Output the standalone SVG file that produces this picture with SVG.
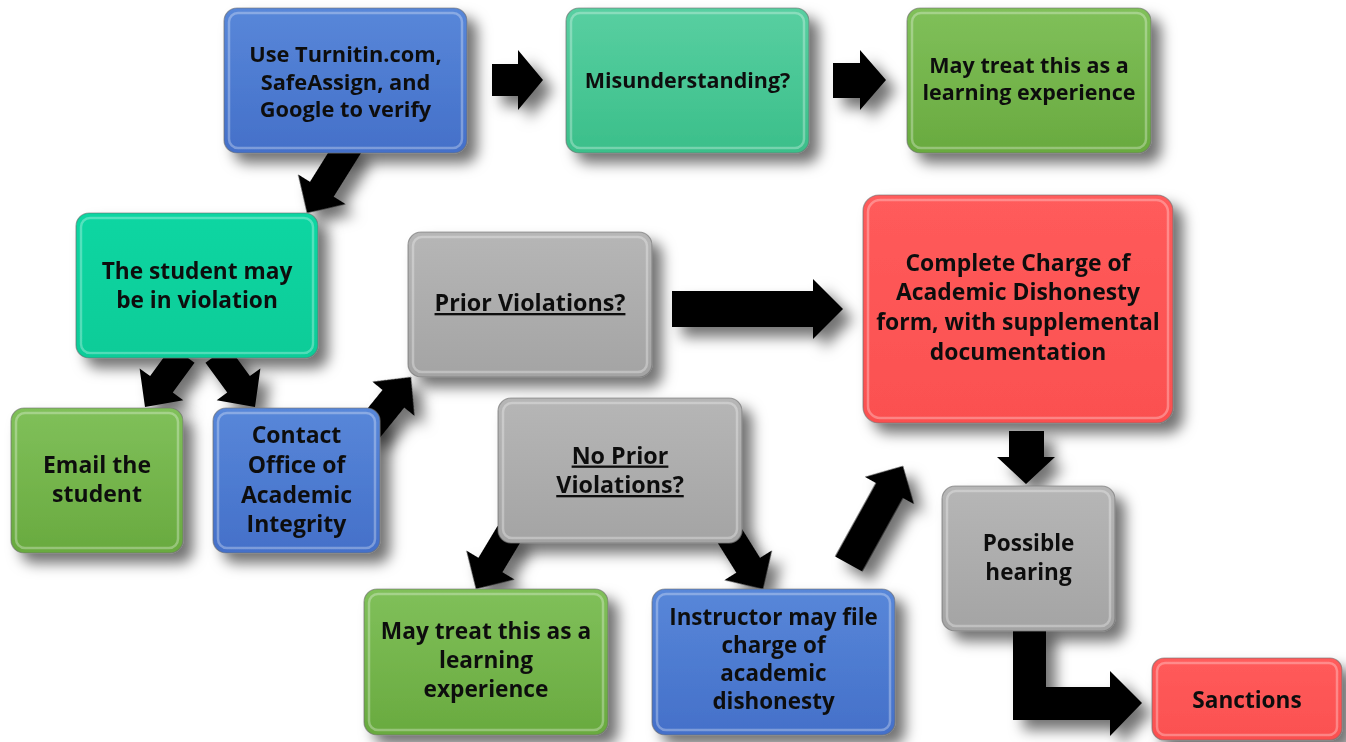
<svg xmlns="http://www.w3.org/2000/svg" width="1346" height="742" viewBox="0 0 1346 742">
  <defs>
    <filter id="shadow" x="-30%" y="-30%" width="160%" height="160%">
      <feGaussianBlur in="SourceAlpha" stdDeviation="7"/>
      <feOffset dx="10" dy="10" result="blur"/>
      <feFlood flood-color="#000" flood-opacity="0.55"/>
      <feComposite in2="blur" operator="in"/>
      <feMerge>
        <feMergeNode/>
        <feMergeNode in="SourceGraphic"/>
      </feMerge>
    </filter>
    <linearGradient id="gBlue" x1="0" y1="0" x2="0" y2="1">
      <stop offset="0" stop-color="#5887d9"/>
      <stop offset="1" stop-color="#4470c9"/>
    </linearGradient>
    <linearGradient id="gTealSoft" x1="0" y1="0" x2="0" y2="1">
      <stop offset="0" stop-color="#58cfa1"/>
      <stop offset="1" stop-color="#3bbf8a"/>
    </linearGradient>
    <linearGradient id="gTeal" x1="0" y1="0" x2="0" y2="1">
      <stop offset="0" stop-color="#0bd6a2"/>
      <stop offset="1" stop-color="#07cc98"/>
    </linearGradient>
    <linearGradient id="gGreen" x1="0" y1="0" x2="0" y2="1">
      <stop offset="0" stop-color="#80c05a"/>
      <stop offset="1" stop-color="#69aa3f"/>
    </linearGradient>
    <linearGradient id="gGray" x1="0" y1="0" x2="0" y2="1">
      <stop offset="0" stop-color="#b6b6b6"/>
      <stop offset="1" stop-color="#a4a4a4"/>
    </linearGradient>
    <linearGradient id="gRed" x1="0" y1="0" x2="0" y2="1">
      <stop offset="0" stop-color="#ff5b5b"/>
      <stop offset="1" stop-color="#fb5050"/>
    </linearGradient>
    <style>
      .box { stroke: #6e6e6e; stroke-opacity: 0.6; stroke-width: 1.2; }
      .bevel { fill: none; stroke: #ffffff; stroke-opacity: 0.3; stroke-width: 2.5; }
      .arrow { fill: #000; }
      .lbl { font-family: "Open Sans", "Noto Sans", "Liberation Sans", sans-serif; font-weight: 700; fill: #111; text-anchor: middle; }
      .u { text-decoration: underline; }
    </style>
  </defs>

  <rect width="1346" height="742" fill="#ffffff"/>

  <!-- block arrows -->
  <g id="connectors" filter="url(#shadow)">
    <polygon class="arrow" points="492,64 518,64 518,50 543,80 518,110 518,96 492,96"/>
    <polygon class="arrow" points="833,63 860,63 860,50 886,80 860,110 860,98 833,98"/>
    <path class="arrow" transform="translate(307,213) rotate(122)" d="M-80,-14 L-28,-14 L-28,-28 L0,0 L-28,28 L-28,14 L-80,14 Z"/>
    <path class="arrow" transform="translate(145,407) rotate(126)" d="M-65,-14 L-28,-14 L-28,-27 L0,0 L-28,27 L-28,14 L-65,14 Z"/>
    <path class="arrow" transform="translate(255,407) rotate(54)" d="M-65,-14 L-28,-14 L-28,-27 L0,0 L-28,27 L-28,14 L-65,14 Z"/>
    <path class="arrow" transform="translate(411,377) rotate(-51)" d="M-70,-14 L-28,-14 L-28,-27 L0,0 L-28,27 L-28,14 L-70,14 Z"/>
    <polygon class="arrow" points="672,291 813,291 813,279 843,309 813,339 813,327 672,327"/>
    <path class="arrow" transform="translate(476,589) rotate(121)" d="M-65,-14 L-28,-14 L-28,-28 L0,0 L-28,28 L-28,14 L-65,14 Z"/>
    <path class="arrow" transform="translate(763,589) rotate(58)" d="M-65,-14 L-28,-14 L-28,-28 L0,0 L-28,28 L-28,14 L-65,14 Z"/>
    <path class="arrow" transform="translate(903,466) rotate(-61)" d="M-112,-15.5 L-28,-15.5 L-28,-28 L0,0 L-28,28 L-28,15.5 L-112,15.5 Z"/>
    <polygon class="arrow" points="1009,431 1044,431 1044,457 1055,457 1026,484 997,457 1009,457"/>
    <polygon class="arrow" points="1013,625 1046,625 1046,687 1110,687 1110,671 1142,703 1110,736 1110,720 1013,720"/>
  </g>

  <g id="verify" filter="url(#shadow)">
    <rect class="box" x="224" y="8" width="243" height="145" rx="13" fill="url(#gBlue)"/>
    <rect class="bevel" x="229" y="13" width="233" height="135" rx="9"/>
    <text class="lbl" font-size="21.8"><tspan x="345.5" y="62">Use Turnitin.com,</tspan><tspan x="345.5" y="89.5">SafeAssign, and</tspan><tspan x="345.5" y="117">Google to verify</tspan></text>
  </g>

  <g id="misunderstanding" filter="url(#shadow)">
    <rect class="box" x="566" y="8" width="243" height="145" rx="13" fill="url(#gTealSoft)"/>
    <rect class="bevel" x="571" y="13" width="233" height="135" rx="9"/>
    <text class="lbl" font-size="21.5" x="687.5" y="88">Misunderstanding?</text>
  </g>

  <g id="learning-top" filter="url(#shadow)">
    <rect class="box" x="907" y="8" width="244" height="145" rx="13" fill="url(#gGreen)"/>
    <rect class="bevel" x="912" y="13" width="234" height="135" rx="9"/>
    <text class="lbl" font-size="21.5"><tspan x="1029" y="73">May treat this as a</tspan><tspan x="1029" y="100">learning experience</tspan></text>
  </g>

  <g id="violation" filter="url(#shadow)">
    <rect class="box" x="76" y="213" width="242" height="145" rx="13" fill="url(#gTeal)"/>
    <rect class="bevel" x="81" y="218" width="232" height="135" rx="9"/>
    <text class="lbl" font-size="22.7"><tspan x="197" y="279">The student may</tspan><tspan x="197" y="308">be in violation</tspan></text>
  </g>

  <g id="email" filter="url(#shadow)">
    <rect class="box" x="11" y="408" width="172" height="145" rx="13" fill="url(#gGreen)"/>
    <rect class="bevel" x="16" y="413" width="162" height="135" rx="9"/>
    <text class="lbl" font-size="23"><tspan x="97" y="473">Email the</tspan><tspan x="97" y="502">student</tspan></text>
  </g>

  <g id="contact" filter="url(#shadow)">
    <rect class="box" x="213" y="408" width="167" height="145" rx="13" fill="url(#gBlue)"/>
    <rect class="bevel" x="218" y="413" width="157" height="135" rx="9"/>
    <text class="lbl" font-size="23"><tspan x="296.5" y="443">Contact</tspan><tspan x="296.5" y="473">Office of</tspan><tspan x="296.5" y="503">Academic</tspan><tspan x="296.5" y="532">Integrity</tspan></text>
  </g>

  <g id="prior" filter="url(#shadow)">
    <rect class="box" x="408" y="232" width="244" height="145" rx="13" fill="url(#gGray)"/>
    <rect class="bevel" x="413" y="237" width="234" height="135" rx="9"/>
    <text class="lbl u" font-size="23.3" x="530" y="311">Prior Violations?</text>
  </g>

  <g id="no-prior" filter="url(#shadow)">
    <rect class="box" x="498" y="398" width="244" height="145" rx="13" fill="url(#gGray)"/>
    <rect class="bevel" x="503" y="403" width="234" height="135" rx="9"/>
    <text class="lbl u" font-size="23.3"><tspan x="620" y="463.5">No Prior</tspan><tspan x="620" y="493">Violations?</tspan></text>
  </g>

  <g id="charge-form" filter="url(#shadow)">
    <rect class="box" x="863" y="195" width="310" height="228" rx="16" fill="url(#gRed)"/>
    <rect class="bevel" x="868" y="200" width="300" height="218" rx="12"/>
    <text class="lbl" font-size="22.9"><tspan x="1018" y="271">Complete Charge of</tspan><tspan x="1018" y="300">Academic Dishonesty</tspan><tspan x="1018" y="330">form, with supplemental</tspan><tspan x="1018" y="360">documentation</tspan></text>
  </g>

  <g id="hearing" filter="url(#shadow)">
    <rect class="box" x="942" y="486" width="173" height="145" rx="13" fill="url(#gGray)"/>
    <rect class="bevel" x="947" y="491" width="163" height="135" rx="9"/>
    <text class="lbl" font-size="22.5"><tspan x="1028.5" y="551">Possible</tspan><tspan x="1028.5" y="580">hearing</tspan></text>
  </g>

  <g id="learning-bottom" filter="url(#shadow)">
    <rect class="box" x="364" y="589" width="244" height="146" rx="13" fill="url(#gGreen)"/>
    <rect class="bevel" x="369" y="594" width="234" height="136" rx="9"/>
    <text class="lbl" font-size="22.7"><tspan x="486" y="639">May treat this as a</tspan><tspan x="486" y="668">learning</tspan><tspan x="486" y="697">experience</tspan></text>
  </g>

  <g id="instructor" filter="url(#shadow)">
    <rect class="box" x="652" y="589" width="243" height="146" rx="13" fill="url(#gBlue)"/>
    <rect class="bevel" x="657" y="594" width="233" height="136" rx="9"/>
    <text class="lbl" font-size="22.4"><tspan x="773.5" y="625">Instructor may file</tspan><tspan x="773.5" y="653">charge of</tspan><tspan x="773.5" y="681">academic</tspan><tspan x="773.5" y="709">dishonesty</tspan></text>
  </g>

  <g id="sanctions" filter="url(#shadow)">
    <rect class="box" x="1152" y="658" width="190" height="82" rx="12" fill="url(#gRed)"/>
    <rect class="bevel" x="1157" y="663" width="180" height="72" rx="8"/>
    <text class="lbl" font-size="22.6" x="1247" y="708">Sanctions</text>
  </g>
</svg>
